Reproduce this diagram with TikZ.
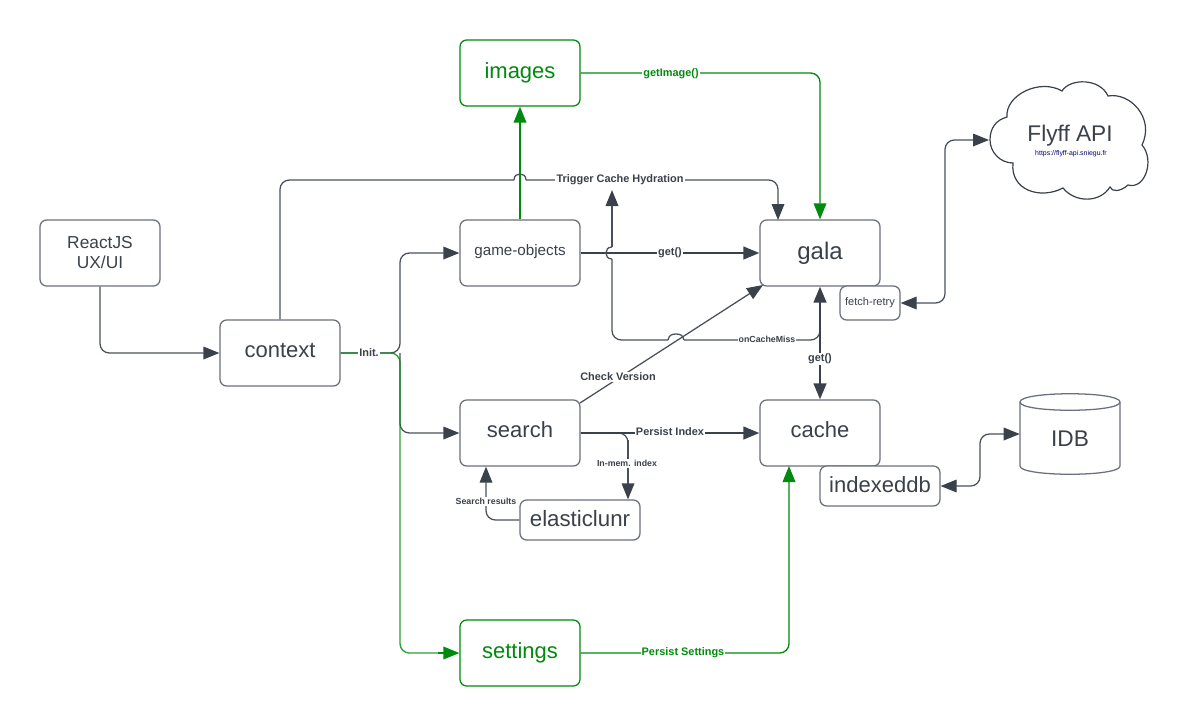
\documentclass[tikz,border=0pt]{standalone}
\usepackage{fontspec}
\setmainfont{Liberation Sans}
\usetikzlibrary{arrows.meta}
\definecolor{ink}{HTML}{3A414A}
\definecolor{edge}{HTML}{6A707C}
\definecolor{wire}{HTML}{4A505B}
\definecolor{gr}{HTML}{008A0E}
\newcommand{\fsz}[1]{\fontsize{#1}{#1}\selectfont}
\newcommand{\up}[2]{\raisebox{#1}{#2}}
\tikzset{
  x=0.75pt,y=-0.75pt,
  head/.tip={Triangle[length=12pt,width=9.5pt,color=ink]},
  ghead/.tip={Triangle[length=12pt,width=9.5pt,color=gr]},
  tip/.style={-head},
  bitip/.style={head-head},
  gtip/.style={-ghead},
  bx/.style={draw=edge,line width=0.95pt,rounded corners=5pt,fill=white,text=ink,inner sep=0pt,align=center},
  gbx/.style={bx,draw=gr,text=gr},
  conn/.style={draw=wire,line width=0.95pt,rounded corners=7pt},
  jump/.style={draw=wire,line width=0.95pt},
  thick conn/.style={draw=ink,line width=1.7pt},
  gconn/.style={draw=gr,line width=1pt,rounded corners=7pt},
  lab/.style={fill=white,inner sep=0.8pt,text=ink,font=\bfseries\fsz{8.2}},
  slab/.style={lab,font=\bfseries\fsz{6.6}},
  glab/.style={lab,text=gr},
}
\begin{document}
\begin{tikzpicture}
\useasboundingbox[fill=white] (0,0) rectangle (1198,726);
% boxes
\node[gbx,minimum width=90pt,minimum height=49.5pt,font=\fsz{16.5}] (images) at (520,73) {\up{3.5pt}{images}};
\node[bx,minimum width=90pt,minimum height=49.5pt,font=\fsz{13}] (react) at (100,253) {\up{1pt}{ReactJS}\\[2pt]\up{1pt}{UX/UI}};
\node[bx,minimum width=90pt,minimum height=49.5pt,font=\fsz{16.5}] (context) at (280,353) {\up{4.5pt}{context}};
\node[bx,minimum width=90pt,minimum height=49.5pt,font=\fsz{11.4}] (game) at (520,253) {\up{4pt}{game-objects}};
\node[bx,minimum width=90pt,minimum height=49.5pt,font=\fsz{18}] (gala) at (820,253) {\up{3.5pt}{gala}};
\node[bx,minimum width=45pt,minimum height=25.5pt,font=\fsz{8.3}] (fetch) at (870,303) {fetch-retry};
\node[bx,minimum width=90pt,minimum height=49.5pt,font=\fsz{16.5}] (search) at (520,433) {\up{5.5pt}{search}};
\node[bx,minimum width=90pt,minimum height=49.5pt,font=\fsz{16.5}] (cache) at (820,433) {\up{5.5pt}{cache}};
\node[bx,minimum width=90pt,minimum height=30pt,font=\fsz{16.5}] (idxdb) at (880,486) {\up{2pt}{indexeddb}};
\node[bx,minimum width=90pt,minimum height=30pt,font=\fsz{16.7}] (elastic) at (580,520) {\up{2pt}{elasticlunr}};
\node[gbx,minimum width=90pt,minimum height=49.5pt,font=\fsz{16.5}] (settings) at (520,653) {\up{3.5pt}{settings}};
% IDB cylinder
\draw[draw=edge,line width=0.95pt,fill=white] (1020,402) .. controls (1020,391) and (1120,391) .. (1120,402)
  -- (1120,466) .. controls (1120,477) and (1020,477) .. (1020,466) -- cycle;
\draw[draw=edge,line width=0.95pt] (1020,402) .. controls (1020,413) and (1120,413) .. (1120,402);
\node[inner sep=0pt,minimum width=75pt,minimum height=60pt,text=ink,font=\fsz{17}] (idb) at (1070,439) {IDB};
% cloud
\draw[draw=ink,line width=0.9pt,fill=white]
  (990,140) .. controls (990,128) and (996,120) .. (1007,117)
  .. controls (1005,95) and (1040,78) .. (1062,91)
  .. controls (1070,78) and (1100,78) .. (1108,96)
  .. controls (1130,92) and (1155,118) .. (1142,145)
  .. controls (1155,160) and (1145,190) .. (1128,185)
  .. controls (1120,192) and (1112,192) .. (1110,187)
  .. controls (1100,203) and (1075,203) .. (1063,188)
  .. controls (1040,200) and (1010,190) .. (1013,163)
  .. controls (1000,163) and (990,152) .. (990,140) -- cycle;
\node[inner sep=0pt,text=ink,font=\fsz{17}] (flyff) at (1070,136) {Flyff API};
\node[inner sep=0pt,text=blue!45!black,font=\fsz{5.2}] (url) at (1071,154) {https://flyff-api.sniegu.fr};
\coordinate (cloudw) at (989,140);
% coordinates
\coordinate (trigA) at (280,180);
\coordinate (trigB) at (778,180);
\coordinate (trigT) at (778,220);
\coordinate (missL) at (612,340);
\coordinate (missT) at (612,190);
\coordinate (chkA) at (580,403);
\coordinate (chkB) at (763,285);
\coordinate (split) at (400,353);
\coordinate (idx) at (628,433);
\coordinate (res) at (486,520);
% dark connectors
\draw[conn,tip] (react.south) |- (context.west);
\draw[conn] (context.north) -- (trigA) -- (514,180);
\draw[jump] (514,180) .. controls (514,175.5) and (517,174) .. (520,174) .. controls (523,174) and (526,175.5) .. (526,180);
\draw[conn,tip] (526,180) -- (trigB) -- (trigT);
\draw[conn,tip] (context.east) -- (split) |- (game.west);
\draw[conn,tip] (split) |- (search.west);
\draw[thick conn,tip] (game.east) -- (gala.west);
\draw[conn] (820,325) -- (820,340) -- (684,340);
\draw[jump] (684,340) .. controls (683,335) and (680,334) .. (676,334) .. controls (672,334) and (669,335) .. (668,340);
\draw[conn] (668,340) -- (missL) -- (612,259);
\draw[jump] (612,259) .. controls (607.5,259) and (606,256) .. (606,253) .. controls (606,250) and (607.5,247) .. (612,247);
\draw[conn,tip] (612,247) -- (missT);
\draw[conn] (search.east) -- (idx) -- (628,445);
\draw[thick conn,bitip] (gala.south) -- (cache.north);
\draw[conn,tip,rounded corners=0pt] (chkA) -- (chkB);
\draw[thick conn,tip] (search.east) -- (cache.west);
\draw[conn,tip,rounded corners=0pt] (628,440) -- (idx |- elastic.north);
\draw[conn,tip] (elastic.west) -- (res) -- (res |- search.south);
\draw[conn,bitip] (fetch.east) -- (945,303) -- (945,140) -- (cloudw);
\draw[conn,bitip] (idxdb.east) -- (980,486) -- (980,434) -- (idb.west |- 0,434);
% green connectors
\draw[gconn,gtip,rounded corners=0pt] (game.north) -- (images.south);
\draw[gconn,gtip] (images.east) -| (gala.north);
\draw[gconn,gtip] (settings.east) -- (789,653) -- (789,466);
\draw[gconn,opacity=0.82] (context.east) -- (split) -- (400,653) -- (440,653);
\draw[gconn,gtip,rounded corners=0pt] (438,653) -- (settings.west);
% labels
\node[lab] (ltrig) at (620,179.5) {Trigger Cache Hydration};
\node[lab] (linit) at (369,353) {Init.};
\node[glab] (limg) at (671,73.5) {getImage()};
\node[lab] (lget) at (670,253) {get()};
\node[lab] (lget2) at (820,359) {get()};
\node[slab] (lmiss) at (767,339.5) {onCacheMiss};
\node[lab] (lchk) at (618,377) {Check Version};
\node[lab] (lpersist) at (670,432) {Persist Index};
\node[slab] (lmem) at (627,463.5) {In-mem. index};
\node[slab] (lres) at (486,501.5) {Search results};
\node[glab] (lset) at (683,652.5) {Persist Settings};
\end{tikzpicture}
\end{document}
